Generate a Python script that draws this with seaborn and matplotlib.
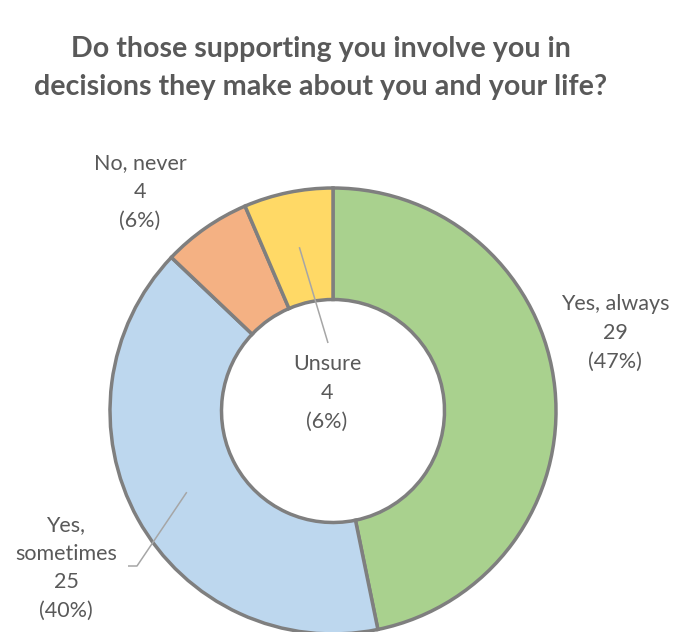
import numpy as np
import matplotlib
matplotlib.use("Agg")
import matplotlib.pyplot as plt
import seaborn as sns

# Survey responses
categories = ["Yes, always", "Yes, sometimes", "No, never", "Unsure"]
counts = [29, 25, 4, 4]
label_text = ["Yes, always", "Yes,\nsometimes", "No, never", "Unsure"]

sns.set_theme(style="white")
plt.rcParams["font.family"] = ["Lato", "DejaVu Sans"]

colors = sns.color_palette(["#A9D18E", "#BDD7EE", "#F4B183", "#FFD966"])
edge = "#7F7F7F"
text_color = "#595959"

W, H = 675, 632
fig = plt.figure(figsize=(W / 100, H / 100), dpi=100)
ax = fig.add_axes([0, 0, 1, 1])


def py(y):
    """Convert a top-down pixel row into the axes' bottom-up coordinate."""
    return H - y


cx, cy = 333, py(411)
R = 223
ring = 111.5

wedges, _ = ax.pie(
    counts,
    colors=colors,
    startangle=90,
    counterclock=False,
    radius=R,
    center=(cx, cy),
    wedgeprops=dict(width=ring, edgecolor=edge, linewidth=2.5),
    frame=True,
)
ax.set_xlim(0, W)
ax.set_ylim(0, H)
ax.set_aspect("equal")
ax.set_axis_off()

total = sum(counts)
pcts = [round(100 * c / total) for c in counts]


def ring_mid(i):
    w = wedges[i]
    th = np.deg2rad((w.theta1 + w.theta2) / 2)
    r = R - ring / 2
    return cx + r * np.cos(th), cy + r * np.sin(th)


label_pos = {
    0: (615, 333),
    1: (66, 568),
    2: (140, 192),
    3: (327, 393),
}

fs = 15.5
for i in range(len(counts)):
    x, y = label_pos[i]
    ax.text(x, py(y), f"{label_text[i]}\n{counts[i]}\n({pcts[i]}%)",
            ha="center", va="center", fontsize=fs, color=text_color,
            linespacing=1.55)

# Leader lines from the ring to the outside labels
lead = "#A6A6A6"
x0, y0 = ring_mid(3)
ax.plot([x0, 328], [y0, py(343)], color=lead, lw=1.1, solid_capstyle="butt")
x0, y0 = ring_mid(1)
ax.plot([x0, 137, 128], [y0, py(566), py(566)], color=lead, lw=1.1,
        solid_capstyle="butt")

fig.text(321 / W, 1 - 68 / H,
         "Do those supporting you involve you in\n"
         "decisions they make about you and your life?",
         ha="center", va="center", fontsize=20.6, fontweight="bold",
         color=text_color, linespacing=1.55)

fig.savefig("out.png", dpi=100, facecolor="white")
